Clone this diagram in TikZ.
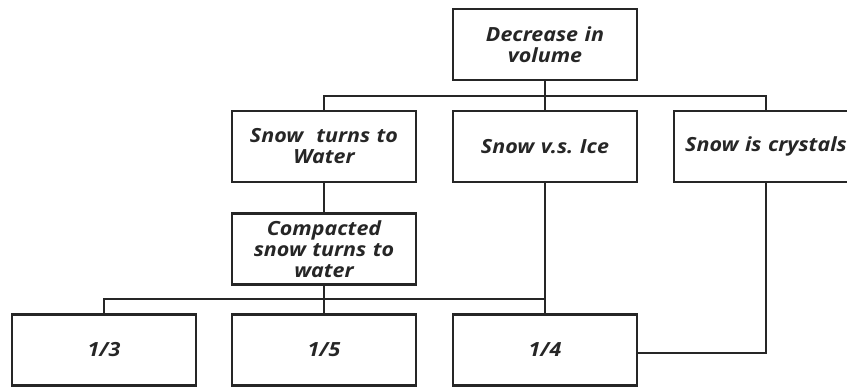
\documentclass[tikz,border=0pt]{standalone}
\usepackage{fontspec}
\setmainfont{Open Sans}[FakeStretch=1.1]
\frenchspacing
\begin{document}
\begin{tikzpicture}[x=1pt,y=-1pt,
  box/.style={draw=black!85,line width=2.6pt,minimum width=184pt,minimum height=71pt,
    inner sep=2pt,align=center,text width=178pt,
    font=\fontsize{19.5}{21}\selectfont\bfseries\itshape,text=black!85},
  conn/.style={draw=black!85,line width=2.4pt}]
\useasboundingbox (0,0) rectangle (847,387);
\clip (0,0) rectangle (847,387);
\node[box] (dec) at (545,44.5) {Decrease in\\volume};
\node[box] (water) at (324,146.5) {Snow~~turns to\\Water};
\node[box] (ice) at (545,146.5) {Snow v.s. Ice};
\node[box] (cry) at (766,146.5) {Snow is crystals};
\node[box] (comp) at (324,249) {Compacted\\snow turns to\\water};
\node[box] (a) at (104,350) {1/3};
\node[box] (b) at (324,350) {1/5};
\node[box] (c) at (545,350) {1/4};
\coordinate (bus1) at (545,96);
\coordinate (bus2) at (324,299);
\coordinate (corner) at (766,353);
% top bus
\draw[conn] (dec.south) -- (bus1);
\draw[conn] (water.north) |- (bus1);
\draw[conn] (cry.north) |- (bus1);
\draw[conn] (bus1) -- (ice.north);
% water to compacted
\draw[conn] (water.south) -- (comp.north);
% second bus
\draw[conn] (comp.south) -- (bus2) -- (b.north);
\draw[conn] (a.north) |- (bus2);
\draw[conn] (bus2) -- (545,299);
\draw[conn] (ice.south) -- (c.north);
% crystals to 1/4
\draw[conn] (cry.south) -- (corner) -- (c.east |- corner);
\end{tikzpicture}
\end{document}
